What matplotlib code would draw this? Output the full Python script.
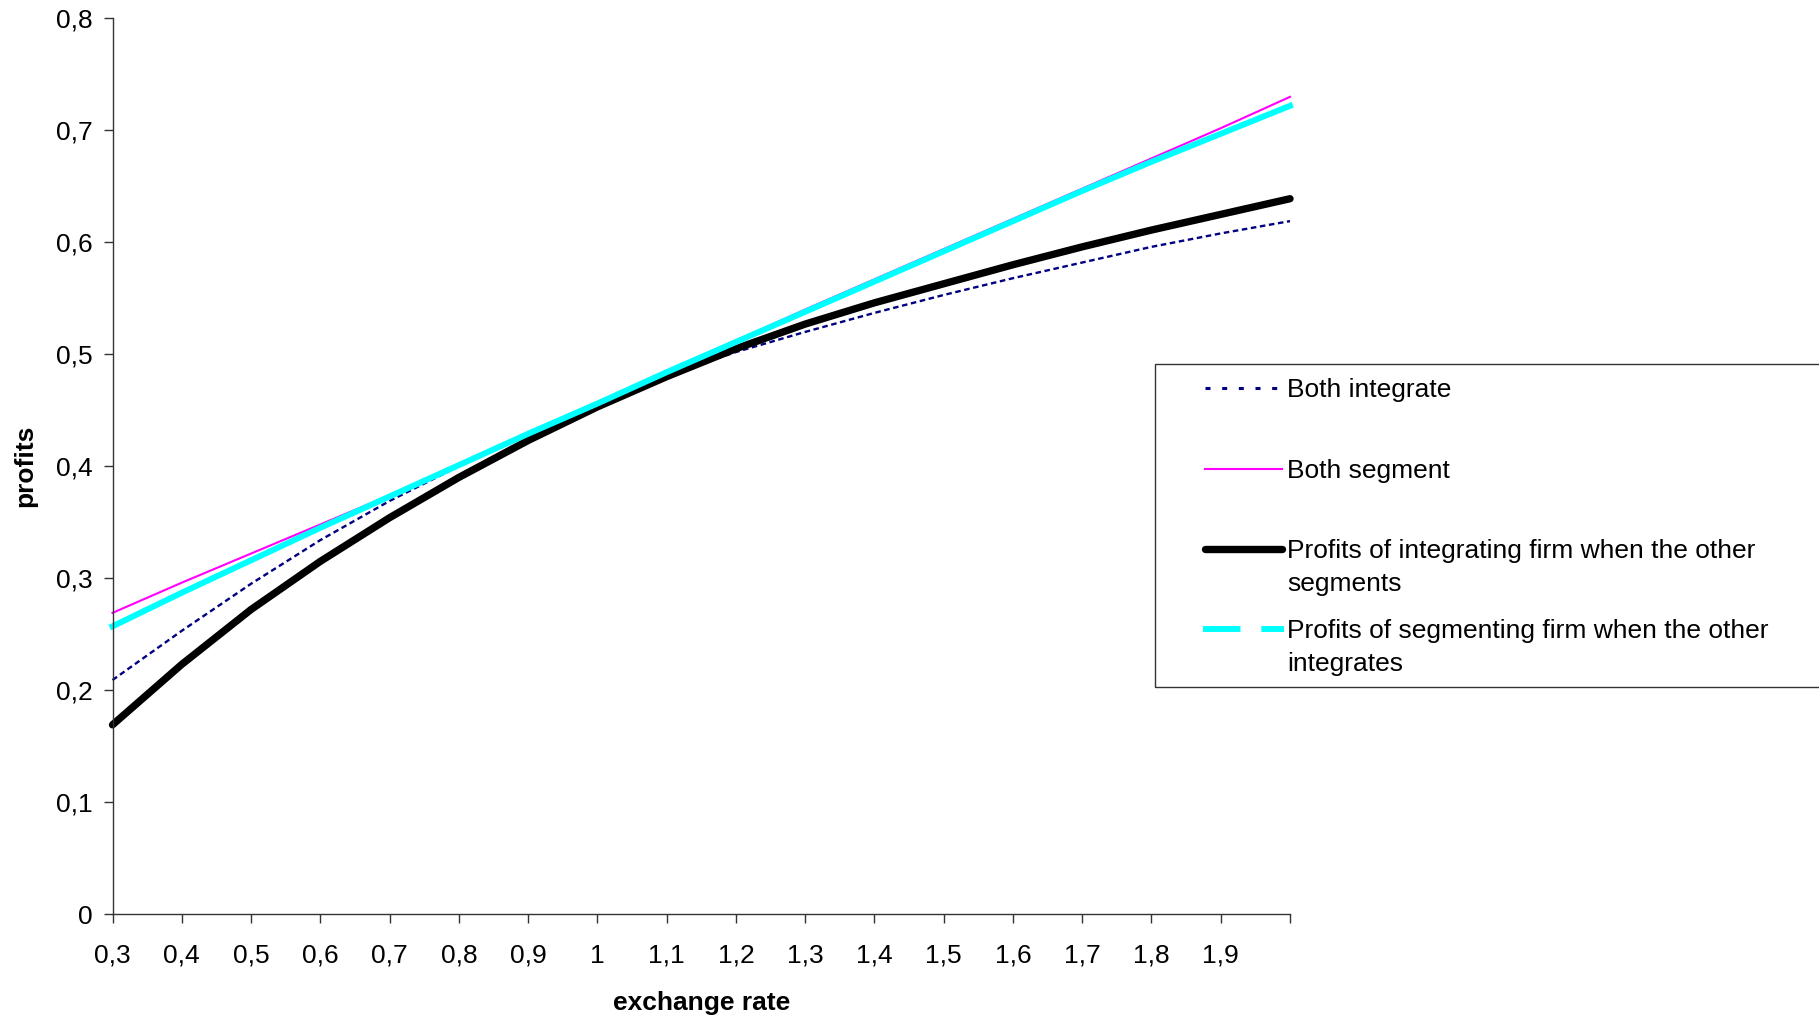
import numpy as np
import matplotlib.pyplot as plt
from matplotlib.lines import Line2D
from matplotlib.patches import Rectangle

plt.rcParams['font.family'] = ['Liberation Sans', 'DejaVu Sans']
plt.rcParams['lines.scale_dashes'] = False

# exchange rate grid and profit curves
rate = [0.3, 0.4, 0.5, 0.6, 0.7, 0.8, 0.9, 1.0, 1.1, 1.2,
        1.3, 1.4, 1.5, 1.6, 1.7, 1.8, 1.9, 2.0]
both_integrate = [0.209, 0.253, 0.295, 0.334, 0.369, 0.400, 0.429, 0.456, 0.481,
                  0.502, 0.520, 0.537, 0.553, 0.568, 0.582, 0.596, 0.608, 0.619]
both_segment = [0.269, 0.296, 0.322, 0.348, 0.374, 0.400, 0.428, 0.457, 0.484,
                0.512, 0.540, 0.567, 0.594, 0.621, 0.648, 0.675, 0.702, 0.730]
integ_vs_seg = [0.169, 0.223, 0.272, 0.315, 0.354, 0.390, 0.423, 0.453, 0.480,
                0.505, 0.527, 0.546, 0.563, 0.580, 0.596, 0.611, 0.625, 0.639]
seg_vs_integ = [0.257, 0.287, 0.316, 0.345, 0.373, 0.401, 0.429, 0.456, 0.484,
                0.511, 0.538, 0.565, 0.592, 0.619, 0.646, 0.672, 0.697, 0.722]

labels = ['Both integrate',
          'Both segment',
          'Profits of integrating firm when the other\nsegments',
          'Profits of segmenting firm when the other\nintegrates']

xticks = [0.3, 0.4, 0.5, 0.6, 0.7, 0.8, 0.9, 1.0, 1.1, 1.2,
          1.3, 1.4, 1.5, 1.6, 1.7, 1.8, 1.9, 2.0]
xticklabels = ['0,3', '0,4', '0,5', '0,6', '0,7', '0,8', '0,9', '1', '1,1', '1,2',
               '1,3', '1,4', '1,5', '1,6', '1,7', '1,8', '1,9', '']
yticks = [0, 0.1, 0.2, 0.3, 0.4, 0.5, 0.6, 0.7, 0.8]
yticklabels = ['0', '0,1', '0,2', '0,3', '0,4', '0,5', '0,6', '0,7', '0,8']

FS = 19

W, H = 1819, 1021
fig = plt.figure(figsize=(W / 100, H / 100), dpi=100)
ax = fig.add_axes([112.5 / W, 1 - 914 / H, (1290 - 112.5) / W, (914 - 18.5) / H])

navy, = ax.plot(rate, both_integrate, color='#000080', lw=1.7, dashes=(4.0, 2.6),
                clip_on=False)
mag, = ax.plot(rate, both_segment, color='#FF00FF', lw=1.5, clip_on=False)
blk, = ax.plot(rate, integ_vs_seg, color='black', lw=5.3, solid_capstyle='round',
               solid_joinstyle='round', clip_on=False)
cyn, = ax.plot(rate, seg_vs_integ, color='#00FFFF', lw=4.3, clip_on=False)

ax.set_xlim(0.3, 2.0)
ax.set_ylim(0, 0.8)
ax.set_xticks(xticks)
ax.set_xticklabels(xticklabels)
ax.set_yticks(yticks)
ax.set_yticklabels(yticklabels)
for s in ['top', 'right']:
    ax.spines[s].set_visible(False)
for s in ['left', 'bottom']:
    ax.spines[s].set_color('#333333')
    ax.spines[s].set_linewidth(1.0)
ax.tick_params(axis='both', direction='out', length=6.5, width=1.0, color='#333333',
               labelsize=FS)
ax.tick_params(axis='x', pad=15)
ax.tick_params(axis='y', pad=8)

ax.set_xlabel('exchange rate', fontsize=FS, fontweight='bold', labelpad=17)
ax.set_ylabel('profits', fontsize=FS, fontweight='bold', labelpad=13)

# legend box, drawn by hand so it runs off the right edge
def fx(x):
    return x / W

def fy(y):
    return 1 - y / H

fig.add_artist(Rectangle((fx(1155), fy(687)), fx(700), (687 - 364) / H,
                         transform=fig.transFigure, fill=False,
                         edgecolor='#333333', lw=1.0))

rows = [390, 471, 551, 631]
handles = [
    dict(color='#000080', lw=2.2, dashes=(3.6, 8.4), x0=1205, x1=1278),
    dict(color='#FF00FF', lw=1.5, x0=1205, x1=1282),
    dict(color='black', lw=5.3, solid_capstyle='round', x0=1205, x1=1282),
    dict(color='#00FFFF', lw=4.3, dashes=(27, 15), x0=1203, x1=1284),
]
for row, h, lab in zip(rows, handles, labels):
    h = dict(h)
    x0, x1 = h.pop('x0'), h.pop('x1')
    fig.add_artist(Line2D([fx(x0), fx(x1)], [fy(row - 2), fy(row - 2)],
                          transform=fig.transFigure, **h))
    for i, part in enumerate(lab.split('\n')):
        fig.text(fx(1287), fy(row + i * 33), part, fontsize=FS, va='center',
                 ha='left')

fig.savefig('out.png', dpi=100)
